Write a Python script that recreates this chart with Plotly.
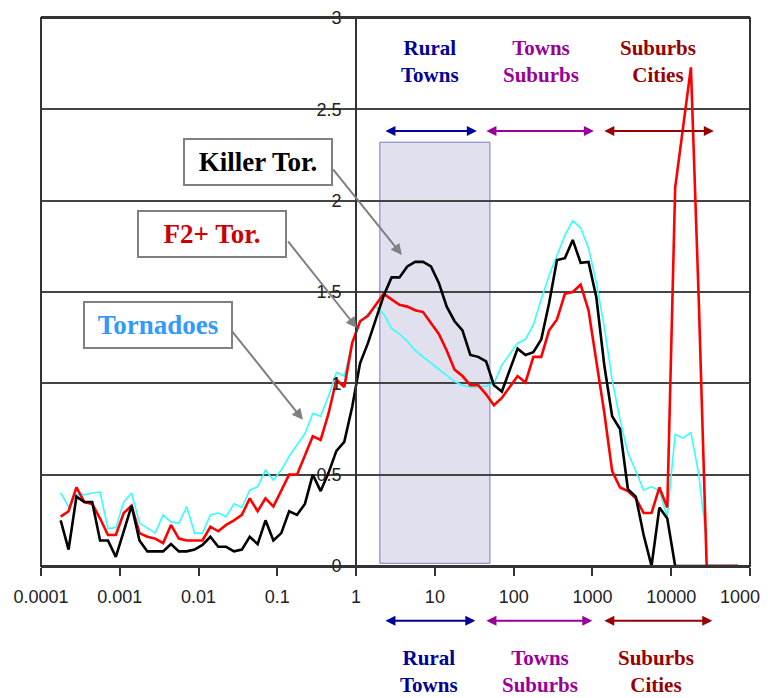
import plotly.graph_objects as go

# ---- data ----
log_x = [-3.75, -3.65, -3.55, -3.45, -3.35, -3.25, -3.15, -3.05, -2.95, -2.85,
         -2.75, -2.65, -2.55, -2.45, -2.35, -2.25, -2.15, -2.05, -1.95, -1.85,
         -1.75, -1.65, -1.55, -1.45, -1.35, -1.25, -1.15, -1.05, -0.95, -0.85,
         -0.75, -0.65, -0.55, -0.45, -0.35, -0.25, -0.15, -0.05, 0.05, 0.15,
         0.25, 0.35, 0.45, 0.55, 0.65, 0.75, 0.85, 0.95, 1.05, 1.15,
         1.25, 1.35, 1.45, 1.55, 1.65, 1.75, 1.85, 1.95, 2.05, 2.15,
         2.25, 2.35, 2.45, 2.55, 2.65, 2.75, 2.85, 2.95, 3.05, 3.15,
         3.25, 3.35, 3.45, 3.55, 3.65, 3.75, 3.85, 3.95, 4.05, 4.15,
         4.25, 4.35, 4.45, 4.55, 4.65, 4.75, 4.85]

killer = [0.25, 0.09, 0.38, 0.35, 0.35, 0.14, 0.14, 0.05, 0.19, 0.33,
          0.14, 0.08, 0.08, 0.08, 0.12, 0.08, 0.08, 0.09, 0.115, 0.16,
          0.105, 0.105, 0.08, 0.09, 0.16, 0.12, 0.25, 0.14, 0.18, 0.30,
          0.28, 0.34, 0.50, 0.41, 0.51, 0.63, 0.68, 0.87, 1.11, 1.22,
          1.35, 1.48, 1.58, 1.58, 1.64, 1.665, 1.665, 1.64, 1.55, 1.42,
          1.34, 1.29, 1.155, 1.145, 1.12, 0.99, 0.955, 1.07, 1.19, 1.155,
          1.17, 1.24, 1.44, 1.675, 1.685, 1.785, 1.66, 1.665, 1.47, 1.10,
          0.82, 0.75, 0.42, 0.38, 0.17, 0.0, 0.32, 0.26, 0.0, 0.0,
          0.0, 0.0, 0.0, 0.0, 0.0, 0.0, 0.0]

f2plus = [0.27, 0.30, 0.43, 0.35, 0.34, 0.26, 0.17, 0.17, 0.29, 0.33,
          0.18, 0.16, 0.15, 0.125, 0.225, 0.15, 0.14, 0.14, 0.14, 0.215,
          0.19, 0.225, 0.25, 0.28, 0.37, 0.30, 0.37, 0.325, 0.415, 0.50,
          0.50, 0.60, 0.71, 0.69, 0.835, 1.02, 0.98, 1.22, 1.34, 1.37,
          1.43, 1.49, 1.46, 1.43, 1.42, 1.40, 1.39, 1.33, 1.27, 1.18,
          1.075, 1.04, 0.99, 0.99, 0.94, 0.88, 0.92, 0.98, 1.04, 1.005,
          1.145, 1.145, 1.29, 1.35, 1.49, 1.50, 1.54, 1.40, 1.12, 0.84,
          0.52, 0.43, 0.41, 0.37, 0.29, 0.29, 0.43, 0.32, 2.07, 2.41,
          2.73, 1.45, 0.0, 0.0, 0.0, 0.0, 0.0]

tornadoes = [0.40, 0.325, 0.39, 0.39, 0.40, 0.405, 0.205, 0.21, 0.35, 0.40,
             0.235, 0.205, 0.18, 0.28, 0.24, 0.235, 0.325, 0.18, 0.18, 0.28,
             0.29, 0.27, 0.34, 0.32, 0.415, 0.435, 0.525, 0.47, 0.525, 0.60,
             0.66, 0.725, 0.835, 0.82, 0.93, 1.06, 1.04, 1.22, 1.33, 1.38,
             1.42, 1.38, 1.30, 1.27, 1.23, 1.18, 1.145, 1.11, 1.08, 1.045,
             1.01, 0.99, 0.98, 0.98, 0.985, 1.0, 1.10, 1.16, 1.22, 1.24,
             1.32, 1.46, 1.59, 1.70, 1.81, 1.89, 1.85, 1.74, 1.55, 1.31,
             1.02, 0.80, 0.62, 0.52, 0.415, 0.435, 0.41, 0.27, 0.72, 0.70,
             0.73, 0.50, 0.13, None, None, None, None]

x_tick_vals = [1e-4, 1e-3, 1e-2, 1e-1, 1, 10, 100, 1000, 10000, 100000]
x_tick_text = ["0.0001", "0.001", "0.01", "0.1", "1", "10", "100", "1000", "10000", "100000"]
y_tick_vals = [0, 0.5, 1, 1.5, 2, 2.5, 3]
y_tick_text = ["0", "0.5", "1", "1.5", "2", "2.5", "3"]

# zone labels: (text, colour, log10 centre, log10 arrow start, log10 arrow end)
zones = [("Rural<br>Towns", "#000099", 0.94, 0.353, 1.533),
         ("Towns<br>Suburbs", "#990099", 2.35, 1.635, 3.018),
         ("Suburbs<br>Cities", "#990000", 3.83, 3.132, 4.541)]

x = [10 ** v for v in log_x]

fig = go.Figure()
fig.add_trace(go.Scatter(x=x, y=tornadoes, mode="lines", line=dict(color="#33FFFF", width=1.6),
                         connectgaps=False, showlegend=False))
fig.add_trace(go.Scatter(x=x, y=f2plus, mode="lines", line=dict(color="#FF0000", width=2.6),
                         showlegend=False))
fig.add_trace(go.Scatter(x=x, y=killer, mode="lines", line=dict(color="#000000", width=2.6),
                         showlegend=False))

tick_font = dict(family="Liberation Sans Narrow, Arial Narrow, Liberation Sans, Arial", size=18, color="#222222")

# the page body adds an 8px offset, so the figure is 8px smaller than the window
fig.update_layout(
    template="none",
    width=760, height=690,
    margin=dict(l=33, r=18, t=10, b=132, pad=0),
    paper_bgcolor="white", plot_bgcolor="white",
    xaxis=dict(type="log", range=[-4, 5], tickvals=x_tick_vals, ticktext=x_tick_text,
               ticks="outside", ticklen=8, tickwidth=2, tickcolor="#333333",
               showgrid=False, zeroline=False, showline=True, linecolor="#333333",
               linewidth=2, mirror=True, tickfont=tick_font, ticklabelstandoff=5,
               ticklabeloverflow="allow", automargin=False),
    yaxis=dict(range=[0, 3], tickvals=y_tick_vals, ticktext=y_tick_text,
               anchor="free", position=4 / 9, showline=True, linecolor="#333333",
               linewidth=2, ticks="", showgrid=True, gridcolor="#444444", gridwidth=2,
               zeroline=False, tickfont=tick_font, ticklabelstandoff=10,
               ticklabeloverflow="allow", automargin=False),
)

# frame of plot area
fig.add_shape(type="rect", xref="paper", yref="paper", x0=0, x1=1, y0=0, y1=1,
              line=dict(color="#333333", width=2), layer="above")
# shaded rural band
fig.add_shape(type="rect", xref="x", yref="y", x0=2, x1=50, y0=0.015, y1=2.32,
              fillcolor="#E0E0EE", line=dict(color="#7B7BC0", width=1), layer="below")

serif = "Liberation Serif, Times New Roman, serif"

for text, col, xc, xa, xb in zones:
    # top labels & arrows
    fig.add_annotation(x=xc, y=2.76, xref="x", yref="y", text="<b>" + text + "</b>",
                       showarrow=False, xanchor="center", yanchor="middle",
                       font=dict(family=serif, size=21, color=col))
    fig.add_annotation(x=xb, y=2.381, ax=xa, ay=2.381, xref="x", yref="y", axref="x", ayref="y",
                       text="", showarrow=True, arrowside="end+start", arrowhead=2, startarrowhead=2,
                       arrowsize=1, startarrowsize=1, arrowwidth=2, arrowcolor=col,
                       standoff=0, startstandoff=0)
    # bottom labels & arrows
    fig.add_annotation(x=xc - 0.02, y=-0.193, xref="x", yref="paper", text="<b>" + text + "</b>",
                       showarrow=False, xanchor="center", yanchor="middle",
                       font=dict(family=serif, size=21, color=col))
    fig.add_annotation(x=xb - 0.02, y=-0.100, ax=xa, ay=0, xref="x", yref="paper", axref="x", ayref="pixel",
                       text="", showarrow=True, arrowside="end+start", arrowhead=2, startarrowhead=2,
                       arrowsize=1, startarrowsize=1, arrowwidth=2, arrowcolor=col,
                       standoff=0, startstandoff=0)

# labelled boxes
boxes = [("Killer Tor.", "#000000", -1.249, 2.212),
         ("F2+ Tor.", "#CC0000", -1.824, 1.815),
         ("Tornadoes", "#3399FF", -2.515, 1.319)]
for text, col, bx, by in boxes:
    fig.add_annotation(x=bx, y=by, xref="x", yref="y", text="<b>" + text + "</b>", showarrow=False,
                       xanchor="center", yanchor="middle",
                       font=dict(family=serif, size=27, color=col), bgcolor="white",
                       bordercolor="#808080", borderwidth=2, borderpad=5,
                       width=136, height=34)

# pointer arrows (head in log10 x / y, tail offset in pixels)
pointers = [(0.581, 1.703, -70, -87), (0.010, 1.303, -70, -88), (-0.675, 0.80, -72, -90)]
for hx, hy, tx, ty in pointers:
    fig.add_annotation(x=hx, y=hy, xref="x", yref="y", ax=tx, ay=ty, text="", showarrow=True,
                       arrowhead=2, arrowsize=1.1, arrowwidth=2, arrowcolor="#808080", standoff=0)

fig.write_html("out.html")
